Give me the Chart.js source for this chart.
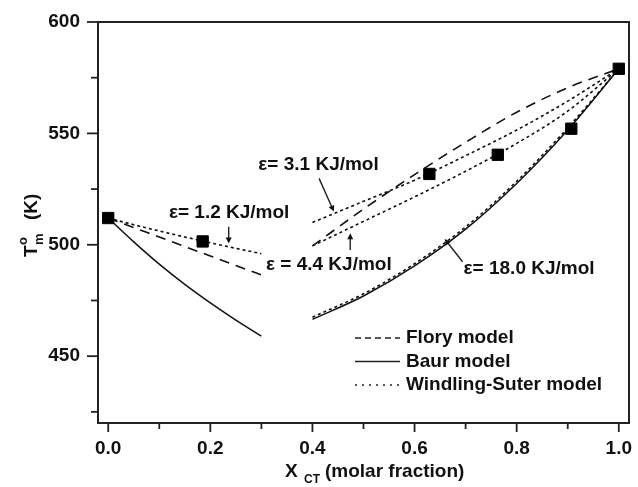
<!DOCTYPE html>
<html>
<head>
<meta charset="utf-8">
<script src="https://cdn.jsdelivr.net/npm/chart.js@4.4.1/dist/chart.umd.min.js"></script>
<style>
  html, body { margin: 0; padding: 0; background: #fff; }
  canvas { display: block; }
</style>
</head>
<body>
<canvas id="chart" width="638" height="487"></canvas>
<script>
// ─── DATA ───
const xLeft = [0, 0.05, 0.1, 0.15, 0.2, 0.25, 0.3];
const baurLeft = [512, 501.3, 491.3, 482.2, 473.9, 466.2, 459];
const floryLeft = [512, 507.7, 503.5, 499.2, 495, 490.7, 486.5];
const wsLeft12 = [512, 509, 506.2, 503.5, 500.9, 498.4, 496];

const xRight = [0.4, 0.5, 0.6, 0.7, 0.8, 0.9, 1.0];
const baurRight = [466.5, 477, 490.5, 507, 527.5, 551.5, 579];
const floryRight = [499.5, 516, 531.5, 546, 559.5, 570.5, 579];
const wsRight31 = [510, 519.5, 529, 540, 551.5, 564.5, 579];
const wsRight44 = [499.5, 510.5, 521.5, 533, 545.5, 560, 579];
const wsRight180 = [467.5, 478, 491.5, 508, 528.5, 552.5, 579];

const xExp = [0, 0.185, 0.629, 0.763, 0.907, 1.0];
const tExp = [512, 501.5, 531.8, 540.4, 552.1, 579];

const legendNames = ['Flory model', 'Baur model', 'Windling-Suter model'];

// annotations: text, text anchor (data coords), arrow from -> to (data coords)
const notes = [
  { text: 'ε= 1.2 KJ/mol', at: [0.119, 514.3], from: [0.236, 508.1], to: [0.236, 500.6] },
  { text: 'ε= 3.1 KJ/mol', at: [0.294, 535.8], from: [0.413, 529.8], to: [0.442, 514.9] },
  { text: 'ε = 4.4 KJ/mol', at: [0.309, 490.9], from: [0.474, 497.7], to: [0.474, 505.2] },
  { text: 'ε= 18.0 KJ/mol', at: [0.696, 489.1], from: [0.694, 492.4], to: [0.659, 502.6] }
];

const FONT = '"Liberation Sans", Arial, Helvetica, sans-serif';
const INK = '#111';

const pts = (xs, ys) => xs.map((x, i) => ({ x, y: ys[i] }));

const FLORY_DASH = [10, 7];
const WS_DASH = [3, 3];

function curve(xs, ys, dash, width) {
  return {
    data: pts(xs, ys),
    showLine: true,
    borderColor: INK,
    borderWidth: width || 1.6,
    borderDash: dash,
    pointRadius: 0,
    cubicInterpolationMode: 'monotone',
    fill: false
  };
}

function arrow(ctx, x1, y1, x2, y2) {
  const ang = Math.atan2(y2 - y1, x2 - x1);
  const hl = 6, hw = 3;
  ctx.beginPath();
  ctx.moveTo(x1, y1);
  ctx.lineTo(x2 - Math.cos(ang) * hl * 0.8, y2 - Math.sin(ang) * hl * 0.8);
  ctx.stroke();
  ctx.beginPath();
  ctx.moveTo(x2, y2);
  ctx.lineTo(x2 - Math.cos(ang) * hl - Math.sin(ang) * hw, y2 - Math.sin(ang) * hl + Math.cos(ang) * hw);
  ctx.lineTo(x2 - Math.cos(ang) * hl + Math.sin(ang) * hw, y2 - Math.sin(ang) * hl - Math.cos(ang) * hw);
  ctx.closePath();
  ctx.fill();
}

const decor = {
  id: 'decor',
  afterDraw(chart) {
    const { ctx, chartArea: a, scales: { x, y } } = chart;
    ctx.save();
    ctx.strokeStyle = '#222';
    ctx.fillStyle = INK;

    // frame
    ctx.lineWidth = 2;
    ctx.strokeRect(a.left, a.top, a.right - a.left, a.bottom - a.top);

    // ticks (major + minor)
    ctx.lineWidth = 1.8;
    x.ticks.forEach(t => {
      const px = x.getPixelForValue(t.value);
      const major = Math.round(t.value * 10) % 2 === 0;
      ctx.beginPath();
      ctx.moveTo(px, a.bottom);
      ctx.lineTo(px, a.bottom + (major ? 9 : 6));
      ctx.stroke();
    });
    y.ticks.forEach(t => {
      const py = y.getPixelForValue(t.value);
      const major = t.value % 50 === 0;
      ctx.beginPath();
      ctx.moveTo(a.left, py);
      ctx.lineTo(a.left - (major ? 11 : 7), py);
      ctx.stroke();
    });

    // annotations
    ctx.font = 'bold 19px ' + FONT;
    ctx.textBaseline = 'middle';
    ctx.textAlign = 'left';
    ctx.lineWidth = 1.4;
    notes.forEach(n => {
      ctx.fillText(n.text, x.getPixelForValue(n.at[0]), y.getPixelForValue(n.at[1]));
      arrow(ctx,
        x.getPixelForValue(n.from[0]), y.getPixelForValue(n.from[1]),
        x.getPixelForValue(n.to[0]), y.getPixelForValue(n.to[1]));
    });

    // legend
    const lx = a.left + 257, ly = a.top + 316, row = 23.5;
    const dashes = [[6, 4], [], [2, 5]];
    dashes.forEach((d, i) => {
      ctx.setLineDash(d);
      ctx.lineWidth = 1.6;
      ctx.beginPath();
      ctx.moveTo(lx, ly + i * row);
      ctx.lineTo(lx + 45, ly + i * row);
      ctx.stroke();
      ctx.setLineDash([]);
      ctx.fillText(legendNames[i], lx + 51, ly + i * row);
    });

    // x axis title: X_CT (molar fraction)
    ctx.textBaseline = 'alphabetic';
    ctx.font = 'bold 19px ' + FONT;
    const tx = 285, tb = 477;
    ctx.fillText('X', tx, tb);
    ctx.font = 'bold 12px ' + FONT;
    ctx.fillText('CT', tx + 19, tb + 6);
    ctx.font = 'bold 19px ' + FONT;
    ctx.fillText('(molar fraction)', tx + 40, tb);

    // y axis title: T_m^o (K), rotated
    ctx.translate(37, 257);
    ctx.rotate(-Math.PI / 2);
    ctx.fillText('T', 0, 0);
    ctx.font = 'bold 13px ' + FONT;
    ctx.fillText('m', 12, 6);
    ctx.fillText('o', 12, -10);
    ctx.font = 'bold 19px ' + FONT;
    ctx.fillText('(K)', 37, 0);

    ctx.restore();
  }
};

const datasets = [
  {
    data: pts(xExp, tExp),
    showLine: false,
    pointStyle: 'rect',
    pointRadius: 8,
    pointBorderWidth: 1,
    pointBackgroundColor: '#000',
    pointBorderColor: '#000'
  },
  curve(xLeft, wsLeft12, WS_DASH),
  curve(xLeft, floryLeft, FLORY_DASH),
  curve(xLeft, baurLeft, [], 1.5),
  curve(xRight, wsRight31, WS_DASH),
  curve(xRight, wsRight44, WS_DASH),
  curve(xRight, floryRight, FLORY_DASH),
  curve(xRight, baurRight, [], 1.5),
  curve(xRight, wsRight180, WS_DASH)
];

new Chart(document.getElementById('chart'), {
  type: 'scatter',
  data: { datasets },
  options: {
    responsive: false,
    animation: false,
    devicePixelRatio: 1,
    clip: false,
    layout: { padding: { left: 0, right: 3, top: 22, bottom: 0 } },
    plugins: { legend: { display: false }, tooltip: { enabled: false } },
    scales: {
      x: {
        type: 'linear',
        min: -0.02,
        max: 1.02,
        grid: { display: false },
        border: { display: false },
        ticks: {
          stepSize: 0.1,
          includeBounds: false,
          autoSkip: false,
          maxRotation: 0,
          padding: 6,
          color: INK,
          font: { family: FONT, size: 19, weight: 'bold' },
          callback: v => Math.round(v * 10) % 2 === 0 ? v.toFixed(1) : ''
        },
        afterFit: s => { s.height = 64; s.paddingLeft = 0; s.paddingRight = 0; }
      },
      y: {
        min: 420,
        max: 600,
        grid: { display: false },
        border: { display: false },
        ticks: {
          stepSize: 25,
          includeBounds: false,
          autoSkip: false,
          padding: 10,
          color: INK,
          font: { family: FONT, size: 19, weight: 'bold' },
          callback: v => v % 50 === 0 ? v : ''
        },
        afterFit: s => { s.width = 98; s.paddingTop = 0; s.paddingBottom = 0; }
      }
    }
  },
  plugins: [decor]
});
</script>
</body>
</html>
